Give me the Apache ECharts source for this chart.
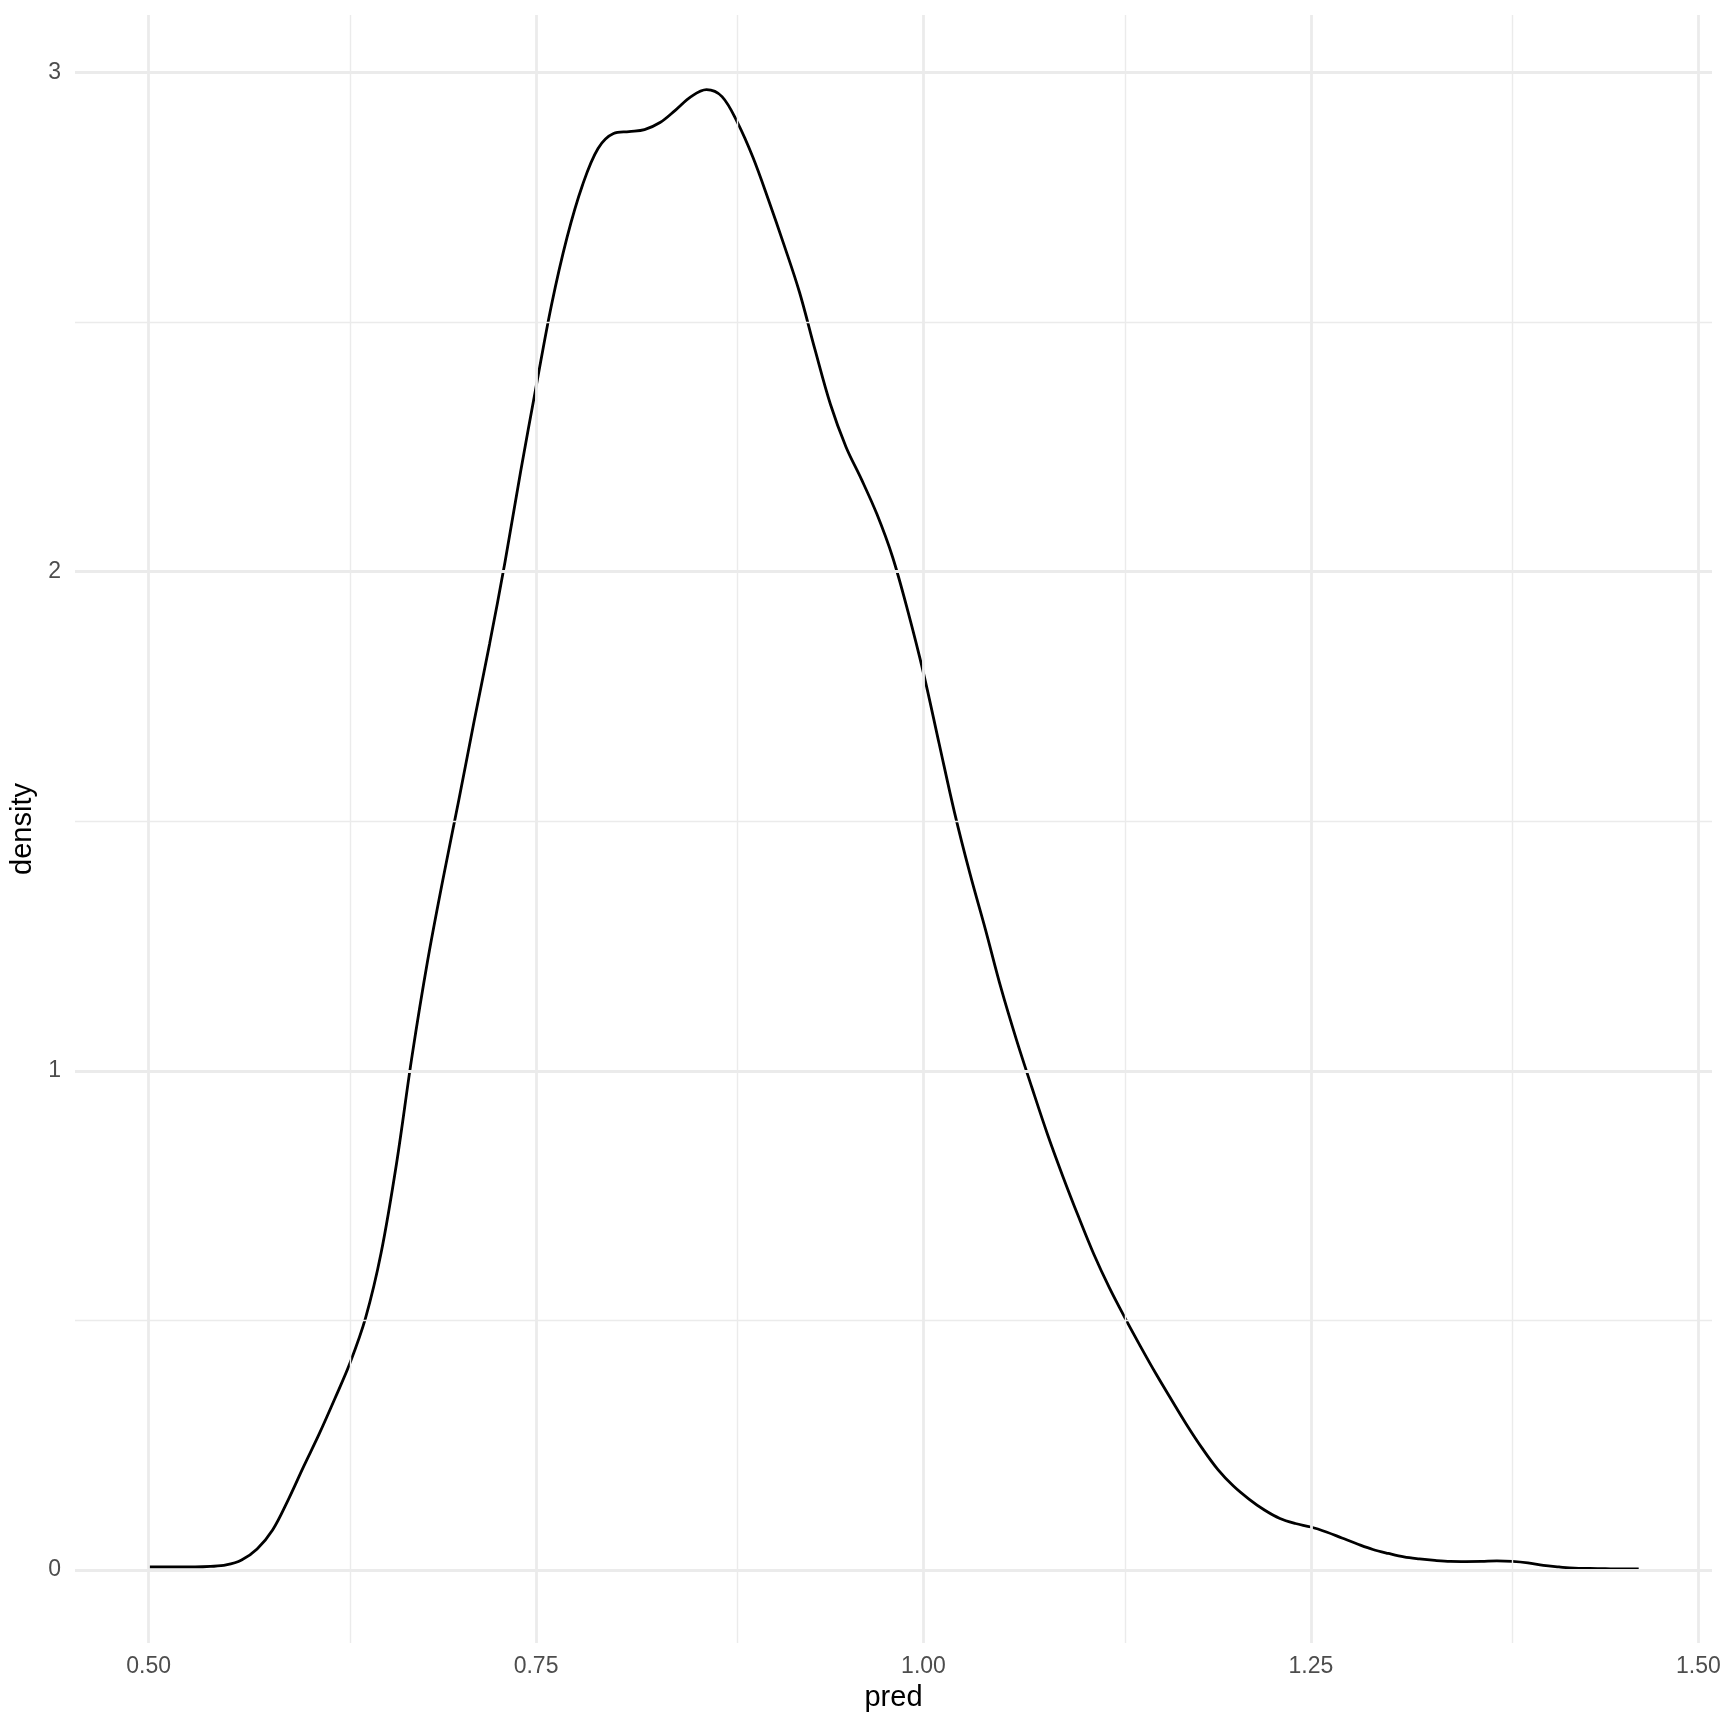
<!DOCTYPE html>
<html>
<head>
<meta charset="utf-8">
<title>density of pred</title>
<script src="https://cdn.jsdelivr.net/npm/echarts@6/dist/echarts.min.js"></script>
<style>
  html, body { margin: 0; padding: 0; background: #ffffff; }
  #chart { width: 1728px; height: 1728px; }
</style>
</head>
<body>
<div id="chart"></div>
<script>
// values
var predX = [0.50, 0.51, 0.52, 0.53, 0.54, 0.55, 0.56, 0.57, 0.58, 0.59,
  0.60, 0.61, 0.62, 0.63, 0.64, 0.65, 0.66, 0.67, 0.68, 0.69,
  0.70, 0.71, 0.72, 0.73, 0.74, 0.75, 0.76, 0.77, 0.78, 0.79,
  0.80, 0.81, 0.82, 0.83, 0.84, 0.85, 0.86, 0.87, 0.88, 0.89,
  0.90, 0.91, 0.92, 0.93, 0.94, 0.95, 0.96, 0.97, 0.98, 0.99,
  1.00, 1.01, 1.02, 1.03, 1.04, 1.05, 1.06, 1.07, 1.08, 1.09,
  1.10, 1.11, 1.12, 1.13, 1.14, 1.15, 1.16, 1.17, 1.18, 1.19,
  1.20, 1.21, 1.22, 1.23, 1.24, 1.25, 1.26, 1.27, 1.28, 1.29,
  1.30, 1.31, 1.32, 1.33, 1.34, 1.35, 1.36, 1.37, 1.38, 1.39,
  1.40, 1.41, 1.42, 1.43, 1.44, 1.45, 1.4615];
var densityY = [0.006, 0.006, 0.006, 0.006, 0.007, 0.010, 0.020, 0.042, 0.080, 0.140,
  0.207, 0.272, 0.342, 0.415, 0.505, 0.635, 0.815, 1.030, 1.220, 1.385,
  1.540, 1.700, 1.855, 2.020, 2.200, 2.370, 2.535, 2.670, 2.775, 2.848,
  2.878, 2.882, 2.886, 2.900, 2.925, 2.952, 2.966, 2.952, 2.900, 2.830,
  2.745, 2.655, 2.560, 2.445, 2.335, 2.250, 2.185, 2.115, 2.030, 1.920,
  1.797, 1.657, 1.518, 1.395, 1.283, 1.166, 1.062, 0.966, 0.873, 0.788,
  0.708, 0.632, 0.565, 0.505, 0.448, 0.393, 0.341, 0.290, 0.243, 0.201,
  0.168, 0.142, 0.120, 0.103, 0.093, 0.086, 0.076, 0.064, 0.052, 0.041,
  0.033, 0.026, 0.022, 0.019, 0.017, 0.0167, 0.017, 0.018, 0.017, 0.014,
  0.009, 0.006, 0.0035, 0.003, 0.0025, 0.002, 0.002];

var xTicks = [0.5, 0.75, 1.0, 1.25, 1.5];
var xMinor = [0.625, 0.875, 1.125, 1.375];
var yTicks = [0, 1, 2, 3];
var yMinor = [0.5, 1.5, 2.5];

var fontFam = "'Liberation Sans', Arial, Helvetica, sans-serif";
var gridCol = "#EBEBEB";

var myChart = echarts.init(document.getElementById("chart"));

var gridLines = [];
xTicks.forEach(function (v) { gridLines.push({ xAxis: v, lineStyle: { width: 2.8 } }); });
xMinor.forEach(function (v) { gridLines.push({ xAxis: v, lineStyle: { width: 1.4 } }); });
yTicks.forEach(function (v) { gridLines.push({ yAxis: v, lineStyle: { width: 2.8 } }); });
yMinor.forEach(function (v) { gridLines.push({ yAxis: v, lineStyle: { width: 1.4 } }); });

var option = {
  backgroundColor: "#ffffff",
  animation: false,
  grid: { left: 75, right: 16, top: 15, bottom: 85, outerBoundsMode: "none", containLabel: false },
  xAxis: {
    type: "value",
    min: 0.4525,
    max: 1.5088,
    name: "pred",
    nameLocation: "middle",
    nameGap: 40,
    nameTextStyle: { fontFamily: fontFam, fontSize: 29, color: "#000000" },
    axisLine: { show: false },
    axisTick: { show: false },
    splitLine: { show: false },
    axisLabel: {
      customValues: xTicks,
      formatter: function (v) { return v.toFixed(2); },
      fontFamily: fontFam,
      fontSize: 23,
      color: "#4D4D4D",
      margin: 12
    }
  },
  yAxis: {
    type: "value",
    min: -0.1464,
    max: 3.1155,
    name: "density",
    nameLocation: "middle",
    nameGap: 33,
    nameRotate: 90,
    nameTextStyle: { fontFamily: fontFam, fontSize: 29, color: "#000000" },
    axisLine: { show: false },
    axisTick: { show: false },
    splitLine: { show: false },
    axisLabel: {
      customValues: yTicks,
      formatter: function (v) { return String(v); },
      fontFamily: fontFam,
      fontSize: 23,
      color: "#4D4D4D",
      margin: 14
    }
  },
  series: [
    {
      // panel grid lines, drawn through the axes
      type: "line",
      data: [],
      z: 1,
      silent: true,
      markLine: {
        silent: true,
        symbol: ["none", "none"],
        label: { show: false },
        lineStyle: { color: gridCol, type: "solid" },
        emphasis: { disabled: true },
        data: gridLines
      }
    },
    {
      name: "density",
      type: "line",
      z: 3,
      data: predX.map(function (x, i) { return [x, densityY[i]]; }),
      smooth: 0.35,
      showSymbol: false,
      lineStyle: { color: "#000000", width: 2.8 }
    }
  ]
};
myChart.setOption(option);
</script>
</body>
</html>
